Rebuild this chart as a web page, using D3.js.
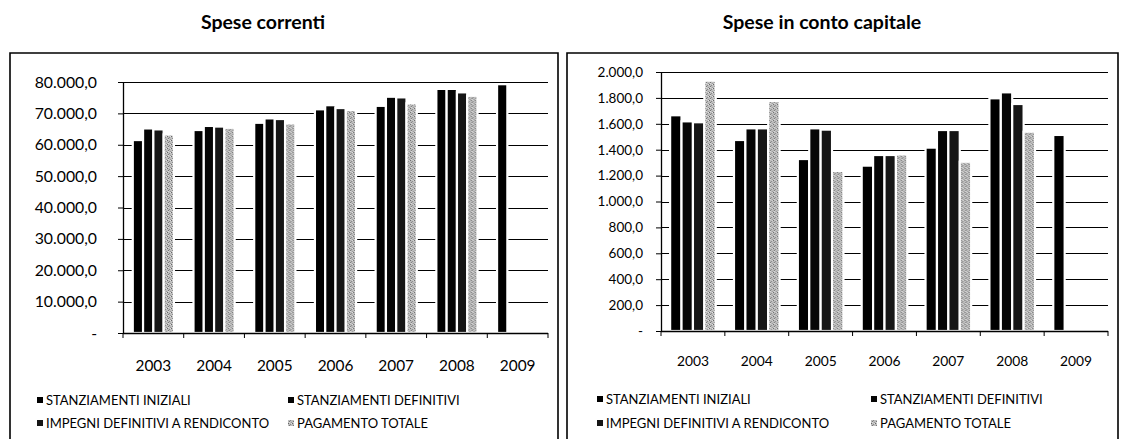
<!DOCTYPE html>
<html>
<head>
<meta charset="utf-8">
<script src="https://cdn.jsdelivr.net/npm/d3@7"></script>
<style>
  body { margin: 0; background: #fff; }
  svg text { font-family: Lato, "Open Sans", sans-serif; fill: #000; }
  .title { font-weight: bold; font-size: 19.5px; }
</style>
</head>
<body>
<div id="chart"></div>
<script>
// values (migliaia di euro)
const years = ["2003", "2004", "2005", "2006", "2007", "2008", "2009"];
const seriesNames = [
  "STANZIAMENTI INIZIALI",
  "STANZIAMENTI DEFINITIVI",
  "IMPEGNI DEFINITIVI A RENDICONTO",
  "PAGAMENTO TOTALE"
];

// Spese correnti
const correntiIniziali   = [61500, 64700, 67000, 71300, 72400, 77800, 79300];
const correntiDefinitivi = [65200, 66000, 68400, 72600, 75300, 77800, null];
const correntiImpegni    = [64900, 65800, 68200, 71700, 75100, 76700, null];
const correntiPagamento  = [63300, 65400, 66800, 71100, 73200, 75600, null];
const correntiTicks = [0, 10000, 20000, 30000, 40000, 50000, 60000, 70000, 80000];

// Spese in conto capitale
const capitaleIniziali   = [1666, 1475, 1328, 1277, 1416, 1797, 1514];
const capitaleDefinitivi = [1619, 1565, 1565, 1359, 1552, 1843, null];
const capitaleImpegni    = [1612, 1565, 1555, 1359, 1552, 1753, null];
const capitalePagamento  = [1933, 1776, 1236, 1364, 1307, 1539, null];
const capitaleTicks = [0, 200, 400, 600, 800, 1000, 1200, 1400, 1600, 1800, 2000];

const W = 1127, H = 439;
const itLocale = d3.formatLocale({ decimal: ",", thousands: ".", grouping: [3], currency: ["€", ""] });
const fmt = itLocale.format(",.1f");
const tickLabel = v => v === 0 ? "-" : fmt(v);

const svg = d3.select("#chart").append("svg")
  .attr("width", W)
  .attr("height", H);

// grey halftone fill for the last series (scanned look)
const defs = svg.append("defs");
const pat = defs.append("pattern")
  .attr("id", "stipple")
  .attr("width", 4).attr("height", 4)
  .attr("patternUnits", "userSpaceOnUse");
pat.append("rect").attr("width", 4).attr("height", 4).attr("fill", "#bdbdbd");
[[0, 0, "#666"], [2, 1, "#8a8a8a"], [1, 2, "#777"], [3, 3, "#999"], [3, 0, "#e0e0e0"], [1, 3, "#dcdcdc"]]
  .forEach(([px, py, c]) => pat.append("rect")
    .attr("x", px).attr("y", py).attr("width", 1).attr("height", 1).attr("fill", c));

const fills = ["#000", "#050505", "#161616", "url(#stipple)"];

function drawPanel(p) {
  const g = svg.append("g");

  // frame (bottom is cut by the page)
  g.append("path")
    .attr("d", `M${p.box[0]},${H + 5}V${p.box[1]}H${p.box[2]}V${H + 5}`)
    .attr("fill", "none")
    .attr("stroke", "#000")
    .attr("stroke-width", 1.6);

  g.append("text")
    .attr("class", "title")
    .attr("x", p.titleX)
    .attr("y", 29)
    .attr("text-anchor", "middle")
    .text(p.title);

  const x0 = d3.scaleBand().domain(years).range([p.left, p.right]).padding(0);
  const x1 = d3.scaleBand().domain(seriesNames).range([0, x0.bandwidth()])
    .paddingInner(0).paddingOuter(p.outer);
  const y = d3.scaleLinear().domain([0, p.ticks[p.ticks.length - 1]]).range([p.bottom, p.top]);

  // gridlines
  g.append("g").selectAll("line")
    .data(p.ticks.slice(1))
    .join("line")
    .attr("x1", p.left).attr("x2", p.right)
    .attr("y1", d => Math.round(y(d)) + 0.5).attr("y2", d => Math.round(y(d)) + 0.5)
    .attr("stroke", "#000").attr("stroke-width", 1.2);

  // bars
  const rows = years.map((yr, i) => ({ year: yr, vals: p.values.map(s => s[i]) }));
  g.append("g").selectAll("g")
    .data(rows)
    .join("g")
    .attr("transform", d => `translate(${x0(d.year)},0)`)
    .selectAll("rect")
    .data(d => d.vals.map((v, k) => ({ name: seriesNames[k], v, k })).filter(d => d.v != null))
    .join("rect")
    .attr("x", d => x1(d.name))
    .attr("width", x1.bandwidth())
    .attr("y", d => y(d.v))
    .attr("height", d => y(0) - y(d.v))
    .attr("fill", d => fills[d.k])
    .attr("stroke", "#fff")
    .attr("stroke-width", 2.2);

  // y axis
  const yAxis = g.append("g")
    .attr("transform", `translate(${p.left},0)`)
    .call(d3.axisLeft(y).tickValues(p.ticks).tickFormat(tickLabel)
      .tickSize(5).tickSizeOuter(0).tickPadding(p.left - p.labelEnd - 5));
  yAxis.select(".domain").attr("stroke-width", 1.3);
  yAxis.selectAll("text").style("font-size", p.tickFont + "px").style("font-family", "Lato, sans-serif");

  // x axis: line with ticks at group boundaries, year labels centred
  g.append("line")
    .attr("x1", p.left).attr("x2", p.right)
    .attr("y1", p.bottom + 0.5).attr("y2", p.bottom + 0.5)
    .attr("stroke", "#000").attr("stroke-width", 1.3);
  g.append("g").selectAll("line")
    .data(years.map(d => x0(d)).concat([p.right]))
    .join("line")
    .attr("x1", d => d).attr("x2", d => d)
    .attr("y1", p.bottom).attr("y2", p.bottom + 5)
    .attr("stroke", "#000");
  g.append("g").selectAll("text")
    .data(years)
    .join("text")
    .attr("x", d => x0(d) + x0.bandwidth() / 2)
    .attr("y", p.yearY)
    .attr("dy", "0.35em")
    .attr("text-anchor", "middle")
    .style("font-size", p.yearFont + "px")
    .text(d => d);

  // legend: two columns, two rows
  const leg = g.append("g").selectAll("g")
    .data(seriesNames)
    .join("g")
    .attr("transform", (d, i) => `translate(${p.legCols[i % 2]},${p.legRows[Math.floor(i / 2)]})`);
  leg.append("rect")
    .attr("x", 0).attr("y", -3)
    .attr("width", 6).attr("height", 6)
    .attr("fill", (d, i) => fills[i]);
  leg.append("text")
    .attr("x", 9)
    .attr("dy", "0.35em")
    .style("font-size", p.legFont + "px")
    .text(d => d);
}

drawPanel({
  title: "Spese correnti", titleX: 263,
  box: [10, 53, 558],
  left: 123, right: 548, top: 82, bottom: 333,
  outer: 0.95,
  ticks: correntiTicks,
  values: [correntiIniziali, correntiDefinitivi, correntiImpegni, correntiPagamento],
  labelEnd: 97, tickFont: 15.8,
  yearY: 366, yearFont: 15.4,
  legCols: [37, 288], legRows: [400, 423], legFont: 13
});

drawPanel({
  title: "Spese in conto capitale", titleX: 822,
  box: [567, 53, 1118],
  left: 661, right: 1108, top: 72, bottom: 331,
  outer: 0.8,
  ticks: capitaleTicks,
  values: [capitaleIniziali, capitaleDefinitivi, capitaleImpegni, capitalePagamento],
  labelEnd: 643, tickFont: 13.5,
  yearY: 361, yearFont: 13.8,
  legCols: [597, 871], legRows: [399, 423], legFont: 13
});
</script>
</body>
</html>
